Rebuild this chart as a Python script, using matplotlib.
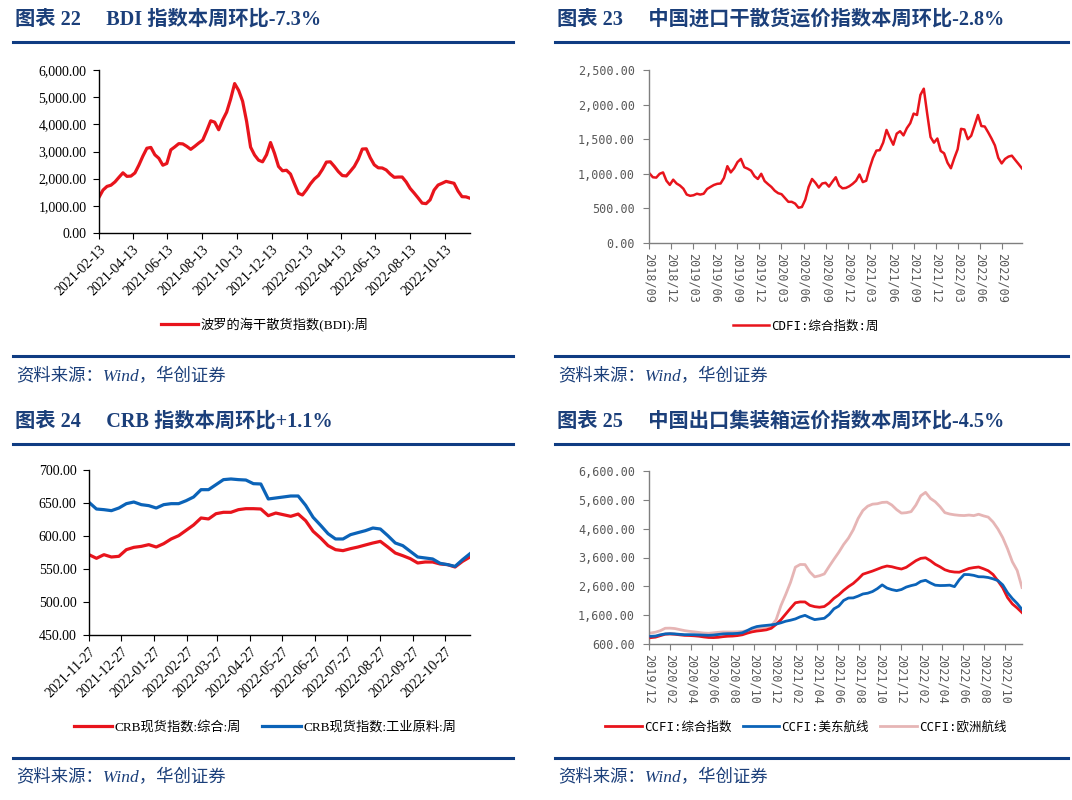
# Weekly shipping / commodity index dashboard (4 panels)

import matplotlib
matplotlib.use("Agg")
import matplotlib.pyplot as plt
import matplotlib.dates as mdates
from matplotlib.ticker import FuncFormatter, MultipleLocator, FixedLocator
from matplotlib.lines import Line2D
import pandas as pd

# ---- data --------------------------------------------------------------
# 图表22: BDI weekly, from 2021-02-13
bdi_start = "2021-02-13"
bdi = [1313, 1580, 1715, 1760, 1880, 2050, 2215, 2085, 2095, 2210,
       2500, 2830, 3120, 3150, 2880, 2750, 2495, 2560, 3060, 3170,
       3290, 3280, 3190, 3080, 3190, 3310, 3420, 3760, 4130, 4080,
       3800, 4160, 4450, 4930, 5500, 5250, 4850, 4110, 3160, 2870,
       2680, 2620, 2880, 3330, 2930, 2450, 2290, 2310, 2170, 1810,
       1460, 1400, 1590, 1810, 1990, 2115, 2340, 2610, 2620, 2450,
       2260, 2115, 2100, 2270, 2450, 2720, 3090, 3100, 2770, 2510,
       2400, 2393, 2320, 2170, 2050, 2060, 2060, 1880, 1640, 1470,
       1290, 1100, 1080, 1220, 1580, 1765, 1830, 1900, 1865, 1830,
       1545, 1337, 1330, 1280]

# 图表23: CDFI composite, sampled every two weeks from 2018-09-03
cdfi_start = "2018-09-03"
cdfi = [1006, 950, 945, 1000, 1020, 900, 840, 915, 860, 830,
        785, 700, 682, 690, 712, 700, 712, 780, 810, 838,
        855, 860, 940, 1110, 1020, 1080, 1170, 1215, 1095, 1074,
        1045, 965, 925, 1000, 895, 851, 810, 755, 720, 705,
        650, 595, 595, 570, 510, 520, 625, 810, 925, 870,
        800, 860, 870, 815, 885, 950, 830, 790, 796, 820,
        855, 900, 990, 880, 900, 1080, 1230, 1335, 1342, 1450,
        1634, 1520, 1420, 1580, 1615, 1555, 1660, 1731, 1870, 1850,
        2140, 2230, 1870, 1530, 1450, 1510, 1330, 1296, 1160, 1080,
        1225, 1355, 1650, 1640, 1500, 1550, 1700, 1850, 1690, 1683,
        1600, 1510, 1410, 1230, 1150, 1215, 1248, 1262, 1200, 1140,
        1078]

# 图表24: CRB spot indices weekly, from 2021-11-27
crb_start = "2021-11-27"
crb_all = [571.7, 566.2, 571.7, 568.2, 569.2, 579.3, 582.8, 584.3, 586.9, 583.3,
           588.4, 595.5, 600.5, 608.6, 616.7, 627.3, 625.8, 633.8, 635.9, 635.9,
           639.9, 641.4, 641.4, 640.9, 630.8, 634.8, 632.3, 629.8, 633.3, 623.2,
           607.1, 597.0, 585.4, 579.3, 577.8, 580.8, 583.3, 586.4, 589.4, 591.9,
           583.3, 574.2, 570.2, 565.7, 559.1, 560.6, 560.6, 557.6, 556.6, 553.0,
           561.6, 568.2]
crb_ind = [651.0, 640.9, 639.9, 638.4, 642.4, 649.0, 651.5, 647.5, 646.0, 642.4,
           647.5, 649.0, 649.0, 653.5, 659.1, 670.2, 670.2, 677.8, 685.4, 686.4,
           685.4, 684.8, 679.3, 678.8, 656.1, 657.6, 659.1, 660.6, 660.6, 646.5,
           628.3, 616.2, 603.5, 595.5, 595.5, 602.0, 605.1, 608.1, 612.1, 610.6,
           600.5, 589.4, 585.4, 576.8, 568.2, 566.7, 565.2, 558.6, 556.6, 554.0,
           564.1, 573.2]

# 图表25: CCFI, sampled every two weeks from 2019-12-06
ccfi_start = "2019-12-06"
ccfi_all = [820, 838, 890, 940, 948, 938, 918, 900, 895, 885,
            870, 845, 826, 822, 832, 855, 870, 876, 892, 920,
            975, 1020, 1050, 1068, 1092, 1145, 1280, 1440, 1640, 1840,
            2030, 2060, 2058, 1940, 1895, 1875, 1900, 2020, 2185, 2305,
            2460, 2590, 2700, 2850, 3020, 3075, 3130, 3195, 3260, 3305,
            3280, 3235, 3200, 3260, 3375, 3490, 3570, 3590, 3490, 3365,
            3277, 3175, 3120, 3095, 3090, 3155, 3220, 3250, 3270, 3210,
            3140, 3010, 2790, 2550, 2210, 1990, 1850, 1690]
ccfi_us = [866, 876, 920, 950, 958, 950, 935, 924, 924, 922,
           915, 908, 901, 910, 930, 950, 958, 959, 968, 990,
           1065, 1150, 1205, 1229, 1246, 1263, 1290, 1335, 1390, 1425,
           1470, 1543, 1594, 1513, 1446, 1469, 1492, 1625, 1820, 1915,
           2110, 2195, 2199, 2260, 2335, 2362, 2420, 2520, 2650, 2540,
           2485, 2450, 2490, 2575, 2625, 2665, 2770, 2810, 2718, 2640,
           2627, 2630, 2640, 2590, 2830, 3010, 3007, 2980, 2933, 2929,
           2906, 2860, 2800, 2650, 2380, 2175, 2005, 1800]
ccfi_eu = [982, 1010, 1062, 1146, 1150, 1136, 1100, 1065, 1040, 1022,
           1000, 980, 971, 988, 1005, 1017, 1017, 1017, 1022, 1035,
           1060, 1100, 1135, 1160, 1186, 1225, 1440, 1930, 2320, 2740,
           3265, 3358, 3355, 3100, 2929, 2968, 3030, 3290, 3540, 3780,
           4050, 4270, 4560, 4950, 5230, 5380, 5450, 5465, 5510, 5520,
           5420, 5260, 5140, 5154, 5190, 5420, 5740, 5860, 5650, 5535,
           5363, 5156, 5108, 5080, 5062, 5055, 5072, 5052, 5100, 5045,
           5000, 4830, 4590, 4290, 3900, 3450, 3150, 2560]
ccfi_yticks = [600, 1600, 2600, 3600, 4600, 5600, 6600]

titles = ["图表 22\u3000 BDI 指数本周环比-7.3%",
          "图表 23\u3000 中国进口干散货运价指数本周环比-2.8%",
          "图表 24\u3000 CRB 指数本周环比+1.1%",
          "图表 25\u3000 中国出口集装箱运价指数本周环比-4.5%"]
source = "资料来源：Wind，华创证券"

# ---- style -------------------------------------------------------------
NAVY = "#1B3F7A"
RULE = "#0F3C82"
RED = "#E8141C"
BLUE = "#0B63B8"
PINK = "#E6B5B5"
GRAY = "#7F7F7F"
SERIF = ["Liberation Serif", "Noto Sans CJK SC"]
MONO = ["DejaVu Sans Mono", "Noto Sans CJK SC"]

W, H = 1072, 800
fig = plt.figure(figsize=(W / 100, H / 100), dpi=100)
fmt2 = FuncFormatter(lambda v, _: f"{v:,.2f}")


def px_axes(x0, y0, x1, y1):
    # pixel box (top-left origin) -> figure axes
    return fig.add_axes([x0 / W, 1 - y1 / H, (x1 - x0) / W, (y1 - y0) / H])


def frame(x0, x1, y_title, y_rule1, y_rule2, y_src, title):
    fig.text((x0 + 2) / W, 1 - y_title / H, title, fontsize=14.6, fontweight="bold",
             color=NAVY, family=SERIF, va="center", ha="left")
    for yy in (y_rule1, y_rule2):
        fig.add_artist(Line2D([x0 / W, x1 / W], [1 - yy / H, 1 - yy / H],
                              color=RULE, lw=2.2, transform=fig.transFigure))
    fig.text((x0 + 3) / W, 1 - y_src / H, source, fontsize=12.5, style="italic",
             color=NAVY, family=SERIF, va="center", ha="left")


def style_axes(ax, color, fam, size):
    for s in ("top", "right"):
        ax.spines[s].set_visible(False)
    for s in ("left", "bottom"):
        ax.spines[s].set_color(color)
        ax.spines[s].set_linewidth(1.0)
    ax.tick_params(colors=color, direction="out", length=4, width=0.8)
    ax.yaxis.set_major_formatter(fmt2)
    for lab in ax.get_yticklabels() + ax.get_xticklabels():
        lab.set_family(fam)
        lab.set_fontsize(size)
        lab.set_color("black" if color == "black" else "#595959")


# ---- panel 22: BDI ----------------------------------------------------
frame(13, 513, 20, 42, 356, 377, titles[0])
ax1 = px_axes(99, 70, 470, 233)
d1 = pd.date_range(bdi_start, periods=len(bdi), freq="7D")
ax1.plot(d1, bdi, color=RED, lw=2.3, label="波罗的海干散货指数(BDI):周")
ax1.set_ylim(0, 6000)
ax1.yaxis.set_major_locator(MultipleLocator(1000))
ax1.set_xlim(d1[0], d1[-1])
ax1.xaxis.set_major_locator(mdates.MonthLocator(bymonth=[2, 4, 6, 8, 10, 12], bymonthday=13))
ax1.xaxis.set_major_formatter(mdates.DateFormatter("%Y-%m-%d"))
style_axes(ax1, "black", "Liberation Serif", 10)
ax1.tick_params(axis="y", pad=5)
plt.setp(ax1.get_xticklabels(), rotation=45, ha="right", rotation_mode="anchor")
ax1.legend(loc="center", bbox_to_anchor=(265 / W, 1 - 325 / H), bbox_transform=fig.transFigure,
           frameon=False, handlelength=2.8, handletextpad=0.2,
           prop={"family": SERIF, "size": 9.5})

# ---- panel 23: CDFI ---------------------------------------------------
frame(555, 1068, 20, 42, 356, 377, titles[1])
ax2 = px_axes(649, 70, 1022, 243)
d2 = pd.date_range(cdfi_start, periods=len(cdfi), freq="14D")
ax2.plot(d2, cdfi, color=RED, lw=1.8, label="CDFI:综合指数:周")
ax2.set_ylim(0, 2500)
ax2.yaxis.set_major_locator(MultipleLocator(500))
ax2.set_xlim(pd.Timestamp("2018-09-01"), d2[-1])
ax2.xaxis.set_major_locator(mdates.MonthLocator(bymonth=[3, 6, 9, 12], bymonthday=1))
ax2.xaxis.set_major_formatter(mdates.DateFormatter("%Y/%m"))
style_axes(ax2, GRAY, "DejaVu Sans Mono", 8.5)
ax2.tick_params(axis="y", pad=6)
plt.setp(ax2.get_xticklabels(), rotation=270, ha="center", va="top")
ax2.legend(loc="center", bbox_to_anchor=(806 / W, 1 - 326 / H), bbox_transform=fig.transFigure,
           frameon=False, handlelength=2.9, handletextpad=0.2,
           prop={"family": MONO, "size": 9})

# ---- panel 24: CRB ----------------------------------------------------
frame(13, 513, 422, 444, 758, 778, titles[2])
ax3 = px_axes(89, 470, 470, 635)
d3 = pd.date_range(crb_start, periods=len(crb_all), freq="7D")
ax3.plot(d3, crb_all, color=RED, lw=2.3, label="CRB现货指数:综合:周")
ax3.plot(d3, crb_ind, color=BLUE, lw=2.3, label="CRB现货指数:工业原料:周")
ax3.set_ylim(450, 700)
ax3.yaxis.set_major_locator(MultipleLocator(50))
ax3.set_xlim(d3[0], d3[-1])
ax3.xaxis.set_major_locator(mdates.MonthLocator(bymonthday=27))
ax3.xaxis.set_major_formatter(mdates.DateFormatter("%Y-%m-%d"))
style_axes(ax3, "black", "Liberation Serif", 10)
ax3.tick_params(axis="y", pad=5)
plt.setp(ax3.get_xticklabels(), rotation=45, ha="right", rotation_mode="anchor")
ax3.legend(loc="center", bbox_to_anchor=(265 / W, 1 - 727 / H), bbox_transform=fig.transFigure,
           frameon=False, ncol=2, handlelength=2.9, handletextpad=0.2, columnspacing=1.6,
           prop={"family": SERIF, "size": 9.5})

# ---- panel 25: CCFI ---------------------------------------------------
frame(555, 1068, 422, 444, 758, 778, titles[3])
ax4 = px_axes(649, 471, 1022, 644)
d4 = pd.date_range(ccfi_start, periods=len(ccfi_all), freq="14D")
ax4.plot(d4, ccfi_eu, color=PINK, lw=2.0, label="CCFI:欧洲航线", zorder=2)
ax4.plot(d4, ccfi_all, color=RED, lw=2.0, label="CCFI:综合指数", zorder=3)
ax4.plot(d4, ccfi_us, color=BLUE, lw=2.0, label="CCFI:美东航线", zorder=3)
ax4.set_ylim(ccfi_yticks[0], ccfi_yticks[-1])
ax4.yaxis.set_major_locator(FixedLocator(ccfi_yticks))
ax4.set_xlim(pd.Timestamp("2019-12-01"), d4[-1])
ax4.xaxis.set_major_locator(mdates.MonthLocator(bymonth=[2, 4, 6, 8, 10, 12], bymonthday=1))
ax4.xaxis.set_major_formatter(mdates.DateFormatter("%Y/%m"))
style_axes(ax4, GRAY, "DejaVu Sans Mono", 8.5)
ax4.tick_params(axis="y", pad=6)
plt.setp(ax4.get_xticklabels(), rotation=270, ha="center", va="top")
h, l = ax4.get_legend_handles_labels()
order = [1, 2, 0]
ax4.legend([h[i] for i in order], [l[i] for i in order], loc="center",
           bbox_to_anchor=(806 / W, 1 - 727 / H), bbox_transform=fig.transFigure,
           frameon=False, ncol=3, handlelength=2.9, handletextpad=0.2, columnspacing=0.9,
           prop={"family": MONO, "size": 9})

fig.savefig("out.png", dpi=100)
